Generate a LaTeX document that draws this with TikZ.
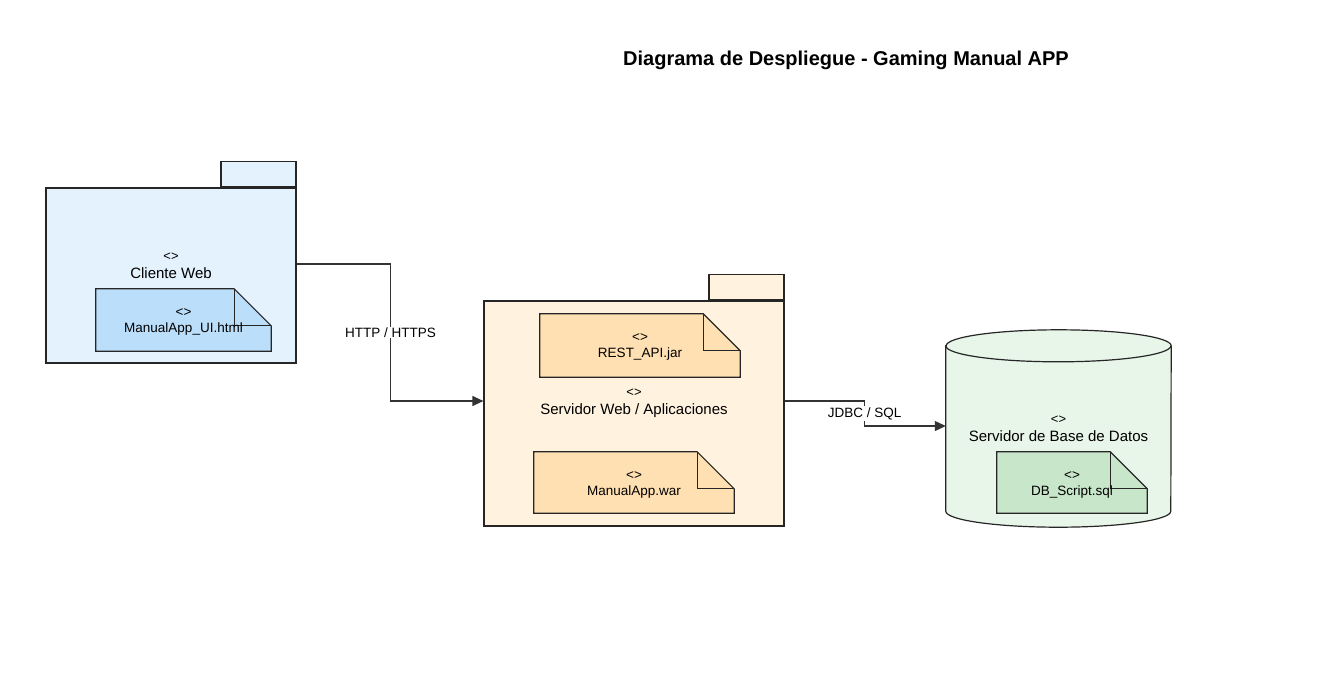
\documentclass[tikz,border=0pt]{standalone}
\usepackage{fontspec}
\setmainfont{Liberation Sans}
\usetikzlibrary{positioning,arrows.meta}
\definecolor{clientfill}{HTML}{E3F2FD}
\definecolor{uifill}{HTML}{BBDEFB}
\definecolor{srvfill}{HTML}{FFF3E0}
\definecolor{jarfill}{HTML}{FFE0B2}
\definecolor{dbfill}{HTML}{E8F5E9}
\definecolor{sqlfill}{HTML}{C8E6C9}

\begin{document}
\begin{tikzpicture}[
	x=1pt, y=-1pt,
	pkg/.style = {
		draw=black!85, rectangle,
		line width=1.2pt,
		inner sep=0pt,
	},
	tab/.style = {
		pkg,
		minimum width=75pt,
		minimum height=25pt,
		anchor=south east,
	},
	holder/.style = {rectangle, inner sep=0pt},
	arttext/.style = {
		align=center,
		font=\fontsize{13.5}{16}\selectfont,
	},
	pkgtext/.style = {
		align=center,
		font=\fontsize{15}{18}\selectfont,
	},
	link/.style = {
		draw=black!80, line width=1.2pt,
		-{Triangle[length=11pt,width=10pt]},
	},
	linklbl/.style = {
		fill=white, inner sep=1pt,
		font=\fontsize{13.5}{16}\selectfont,
	},
]
\useasboundingbox (0,0) rectangle (1344,686);

% Title
\node [font=\bfseries\fontsize{20}{24}\selectfont] (title) at (846,60)
	{Diagrama de Despliegue - Gaming Manual APP};

% Client package
\node [pkg, fill=clientfill, minimum width=250pt, minimum height=175pt] (client) at (171,275.5) {};
\node [tab, fill=clientfill] (clienttab) at (client.north east) {};
\node [pkgtext] (clientlbl) at (171,265.5) {{\fontsize{13}{15}\selectfont <>}\\Cliente Web};

% Server package
\node [pkg, fill=srvfill, minimum width=300pt, minimum height=225pt] (srv) at (634,413.5) {};
\node [tab, fill=srvfill] (srvtab) at (srv.north east) {};
\node [pkgtext] (srvlbl) at (634,403.5) {{\fontsize{13}{15}\selectfont <>}\\Servidor Web / Aplicaciones};

% DB node
\node [holder, minimum width=225pt, minimum height=197pt] (db) at (1058.5,428.5) {};
\filldraw [fill=dbfill, draw=black!85, line width=1.2pt]
	([yshift=-16pt]db.north west) -- ([yshift=16pt]db.south west)
	arc [start angle=180, end angle=360, x radius=112.5pt, y radius=16pt]
	-- ([yshift=-16pt]db.north east)
	arc [start angle=0, end angle=180, x radius=112.5pt, y radius=16pt] -- cycle;
\draw [black!85, line width=1.2pt] ([yshift=-16pt]db.north west)
	arc [start angle=180, end angle=360, x radius=112.5pt, y radius=16pt];
\node [pkgtext] (dblbl) at (1058.5,428.5) {{\fontsize{13}{15}\selectfont <>}\\Servidor de Base de Datos};

% Artifacts
\node [holder, minimum width=175pt, minimum height=62pt] (ui) at (183.5,320) {};
\node [holder, minimum width=200pt, minimum height=63pt] (jar) at (640,345.5) {};
\node [holder, minimum width=200pt, minimum height=61pt] (war) at (634,482.5) {};
\node [holder, minimum width=150pt, minimum height=61pt] (sql) at (1072,482.5) {};

\foreach \a/\c in {ui/uifill, jar/jarfill, war/jarfill, sql/sqlfill} {
	\filldraw [fill=\c, draw=black!85, line width=1.2pt]
		(\a.north west) -- ([xshift=-37pt]\a.north east)
		-- ([yshift=-37pt]\a.north east) -- (\a.south east)
		-- (\a.south west) -- cycle;
	\draw [black!85, line width=1.2pt]
		([xshift=-37pt]\a.north east) |- ([yshift=-37pt]\a.north east);
}

\node [arttext] (uitext) at ([yshift=-2pt]ui) {<>\\ManualApp\_UI.html};
\node [arttext] (jartext) at ([yshift=-1.5pt]jar) {<>\\REST\_API.jar};
\node [arttext] (wartext) at ([yshift=-2pt]war) {<>\\ManualApp.war};
\node [arttext] (sqltext) at ([yshift=-2pt]sql) {<>\\DB\_Script.sql};

% Connections
\draw [link] ([yshift=11.5pt]client.east) -- ++(94,0) |- ([yshift=12.5pt]srv.west)
	node [linklbl, pos=0.25] (http) {HTTP / HTTPS};
\draw [link] ([yshift=12.5pt]srv.east) -- ++(80,0) |- ([yshift=2.5pt]db.west)
	node [linklbl, pos=0.25] (jdbc) {JDBC / SQL};

\end{tikzpicture}
\end{document}
